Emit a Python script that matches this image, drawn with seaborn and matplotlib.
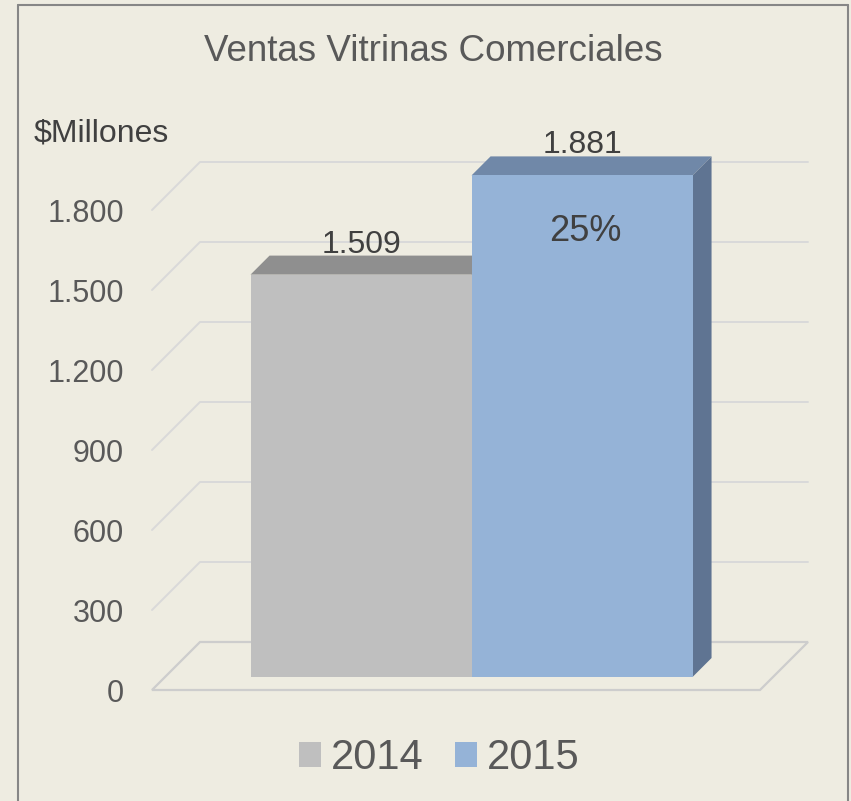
import pandas as pd
import matplotlib
matplotlib.use("Agg")
import matplotlib.pyplot as plt
from matplotlib.patches import Polygon, Patch
from matplotlib.lines import Line2D
import seaborn as sns

# datos
anios = ["2014", "2015"]
ventas = [1509, 1881]
ticks_y = [0, 300, 600, 900, 1200, 1500, 1800]
titulo = "Ventas Vitrinas Comerciales"
unidad = "$Millones"

# colores (frente, techo, lado)
colores = ["#BFBFBF", "#95B3D7"]
colores_techo = ["#8F8F8F", "#7088A8"]
colores_lado = ["#7F7F7F", "#5F7492"]
FONDO = "#EEECE1"
GRIS_TXT = "#595959"

W, H = 851, 801
sns.set_theme(style="white")
plt.rcParams["font.family"] = ["Liberation Sans", "DejaVu Sans"]

fig = plt.figure(figsize=(W / 100, H / 100), dpi=100, facecolor=FONDO)
# el eje es el plano frontal del piso
ax = fig.add_axes([152 / W, 1 - 690 / H, 608 / W, 480 / H])
ax.set_facecolor("none")

df = pd.DataFrame({"anio": anios, "ventas": ventas})
sns.barplot(data=df, x="anio", y="ventas", hue="anio", palette=colores,
            width=1.0, saturation=1, errorbar=None, legend=False,
            linewidth=0, ax=ax, zorder=3)

xlim = (-0.887, 1.864)
ylim = (ticks_y[0], ticks_y[-1])
ax.set_xlim(xlim)
ax.set_ylim(ylim)
dx = (xlim[1] - xlim[0]) / 608   # unidades por pixel
dy = (ylim[1] - ylim[0]) / 480

FRENTE, PROF, PARED = 13, 19, 48

# piso y lineas de cuadricula en perspectiva
x0, x1 = xlim
ax.add_patch(Polygon([(x0, 0), (x1, 0), (x1 + PARED * dx, PARED * dy), (x0 + PARED * dx, PARED * dy)],
                     closed=True, fill=False, edgecolor="#CDCDCD", lw=1.6, clip_on=False, zorder=1))
for v in ticks_y[1:]:
    ax.plot([x0, x0 + PARED * dx, x1 + PARED * dx], [v, v + PARED * dy, v + PARED * dy],
            color="#D9D9D9", lw=1.4, clip_on=False, zorder=1)

# barras 3D: mover el frente y agregar techo y lado
barras = list(ax.patches)[:len(ventas)]
for p, ct, cl in zip(barras, colores_techo, colores_lado):
    p.set_x(p.get_x() + FRENTE * dx)
    p.set_y(p.get_y() + FRENTE * dy)
    p.set_clip_on(False)
    bx0, by0 = p.get_x(), p.get_y()
    bx1, by1 = bx0 + p.get_width(), by0 + p.get_height()
    ax.add_patch(Polygon([(bx0, by1), (bx1, by1), (bx1 + PROF * dx, by1 + PROF * dy), (bx0 + PROF * dx, by1 + PROF * dy)],
                         closed=True, facecolor=ct, edgecolor="none", clip_on=False, zorder=2.5))
    ax.add_patch(Polygon([(bx1, by0), (bx1 + PROF * dx, by0 + PROF * dy), (bx1 + PROF * dx, by1 + PROF * dy), (bx1, by1)],
                         closed=True, facecolor=cl, edgecolor="none", clip_on=False, zorder=2.5))
    ax.text((bx0 + bx1) / 2, by1 + (PROF + 3) * dy, f"{int(round(p.get_height())):,}".replace(",", "."),
            ha="center", va="baseline", fontsize=23, color="#404040", zorder=5)

# variacion dentro de la barra 2015
pb = barras[1]
var = round((ventas[1] - ventas[0]) / ventas[0] * 100)
ax.text(pb.get_x() + pb.get_width() / 2 + 3 * dx, pb.get_y() + pb.get_height() - 66 * dy, f"{var}%",
        ha="center", va="baseline", fontsize=26, color="#404040", zorder=5)

ax.set_yticks(ticks_y, labels=[f"{v:,}".replace(",", ".") for v in ticks_y])
ax.tick_params(axis="y", length=0, pad=20, labelsize=22, labelcolor=GRIS_TXT)
ax.set_xticks([])
ax.set_xlabel("")
ax.set_ylabel("")
for s in ax.spines.values():
    s.set_visible(False)

fig.text(433.5 / W, 1 - 61 / H, titulo, ha="center", va="baseline", fontsize=26.5, color=GRIS_TXT)
fig.text(34 / W, 1 - 142 / H, unidad, ha="left", va="baseline", fontsize=23, color="#404040")

handles = [Patch(facecolor=c, edgecolor="none", label=a) for a, c in zip(anios, colores)]
fig.legend(handles=handles, loc="center", bbox_to_anchor=(439.5 / W, 1 - 758 / H), ncol=2,
           frameon=False, fontsize=30, labelcolor=GRIS_TXT, handlelength=0.53, handleheight=0.53,
           handletextpad=0.24, columnspacing=0.74, borderpad=0, borderaxespad=0)

# marco
for xs, ys in [([17.5, 17.5], [801, 5]), ([17.5, 848], [5, 5]), ([848, 848], [5, 801])]:
    fig.add_artist(Line2D([x / W for x in xs], [1 - y / H for y in ys], color="#868686", lw=1.5))

fig.savefig("out.png", dpi=100, facecolor=FONDO)
